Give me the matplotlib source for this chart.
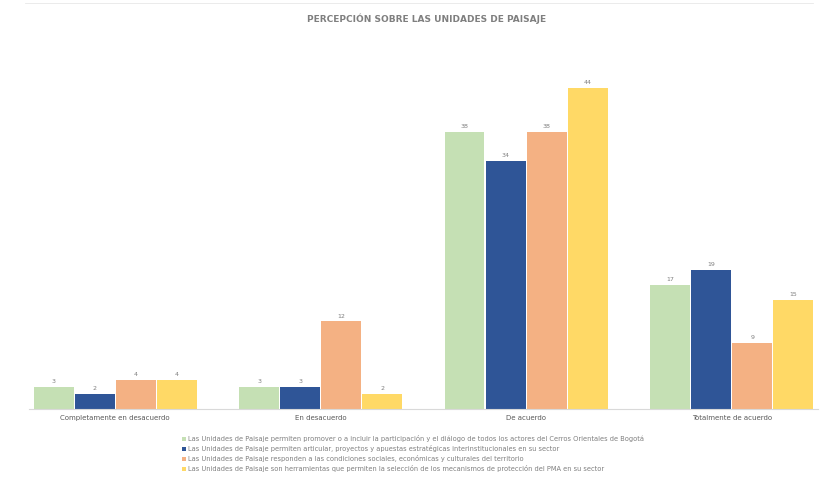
import numpy as np
import matplotlib.pyplot as plt

categories = ["Completamente en desacuerdo", "En desacuerdo", "De acuerdo", "Totalmente de acuerdo"]
series_labels = [
    "Las Unidades de Paisaje permiten promover o a incluir la participación y el diálogo de todos los actores del Cerros Orientales de Bogotá",
    "Las Unidades de Paisaje permiten articular, proyectos y apuestas estratégicas interinstitucionales en su sector",
    "Las Unidades de Paisaje responden a las condiciones sociales, económicas y culturales del territorio",
    "Las Unidades de Paisaje son herramientas que permiten la selección de los mecanismos de protección del PMA en su sector",
]
promover = [3, 3, 38, 17]
articular = [2, 3, 34, 19]
responden = [4, 12, 38, 9]
herramientas = [4, 2, 44, 15]
colors = ["#C5E0B4", "#2F5597", "#F4B183", "#FFD966"]

series = [promover, articular, responden, herramientas]

fig = plt.figure(figsize=(8.21, 4.86), dpi=100)
ax = fig.add_axes([0.0353, 0.1584, 0.961, 0.751])

x = np.arange(len(categories))
w = 0.2
for i, (vals, col, lab) in enumerate(zip(series, colors, series_labels)):
    pos = x + (i - 1.5) * w
    bars = ax.bar(pos, vals, width=w * 0.97, color=col, label=lab)
    for b, v in zip(bars, vals):
        ax.text(b.get_x() + b.get_width() / 2, v + 0.4, str(v), ha="center", va="bottom",
                fontsize=4.5, color="#7F7F7F")

ax.set_xlim(-0.42, 3.42)
ax.set_ylim(0, 50)
ax.set_yticks([])
ax.set_xticks(x)
ax.set_xticklabels(categories, fontsize=5, color="#595959")
ax.tick_params(axis="x", length=0, pad=4)
for s in ["top", "right", "left"]:
    ax.spines[s].set_visible(False)
ax.spines["bottom"].set_color("#D9D9D9")
ax.spines["bottom"].set_linewidth(0.8)

fig.text(0.52, 0.962, "PERCEPCIÓN SOBRE LAS UNIDADES DE PAISAJE", ha="center", va="center",
         fontsize=6.5, color="#7F7F7F", fontweight="semibold")
fig.add_artist(plt.Line2D([0.03, 0.99], [0.994, 0.994], color="#E8E8E8", lw=0.6))

ax.legend(loc="upper left", bbox_to_anchor=(0.19, -0.065), frameon=False, fontsize=4.8,
          handlelength=0.7, handleheight=0.7, handletextpad=0.3, labelspacing=0.45,
          labelcolor="#7F7F7F", borderaxespad=0)

fig.savefig("out.png", dpi=100)
